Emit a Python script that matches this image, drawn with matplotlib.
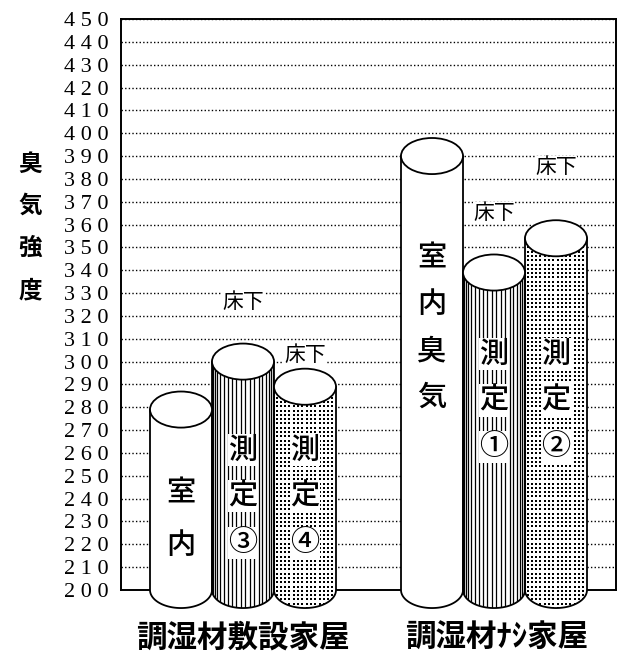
import matplotlib
matplotlib.use("Agg")
import matplotlib.pyplot as plt
from matplotlib.patches import Ellipse, Polygon
import numpy as np

plt.rcParams['font.family'] = ['Noto Sans CJK JP', 'DejaVu Sans']

# 臭気強度 for each house
groups = ['調湿材敷設家屋', '調湿材ﾅｼ家屋']
bar_names = [['室内', '測定③', '測定④'], ['室内臭気', '測定①', '測定②']]
values = [[279, 300, 289], [390, 339, 354]]
floor_flags = [[False, True, True], [False, True, True]]   # 床下 measurement
yticks = list(range(200, 451, 10))

# drawing style / layout
fills = ['plain', 'lines', 'dots']
BASE = 200
W = 62            # cylinder width (x units = px)
HALF = 7.9        # half height of the end ellipses (y units)
group_left = [150, 401]
name_y = [[231, 241, 241], [315, 283, 283]]
floor_off = [[0, 26, 14], [0, 26, 31]]

fig = plt.figure(figsize=(6.23, 6.56), dpi=100)
ax = fig.add_axes([121/623, 66/656, 495/623, 571/656])
ax.set_xlim(121, 616)
ax.set_ylim(200, 450)


def cylinder(ax, x0, top, style):
    x1 = x0 + W
    cx, r = x0 + W/2, W/2
    t = np.linspace(np.pi, 2*np.pi, 80)
    arc = np.column_stack([cx + r*np.cos(t), BASE + HALF*np.sin(t)])
    pts = np.vstack([[x0, top], arc, [x1, top]])
    body = Polygon(pts, closed=True, facecolor='white', edgecolor='none',
                   zorder=3, clip_on=False)
    ax.add_patch(body)
    if style == 'lines':
        th = np.linspace(-np.pi/2, np.pi/2, 22)[1:-1]
        lc = ax.vlines(cx + r*np.sin(th), BASE - HALF - 1, top,
                       colors='black', lw=0.9, zorder=3.1)
        lc.set_clip_path(body)
        lc.set_clip_box(None)
    elif style == 'dots':
        gx = np.arange(x0 + 2.5, x1, 4.3)
        gy = np.arange(BASE - HALF, top, 1.88)
        X, Y = np.meshgrid(gx, gy)
        d = ax.scatter(X.ravel(), Y.ravel(), s=1.5, c='black', marker='s',
                       lw=0, zorder=3.1)
        d.set_clip_path(body)
        d.set_clip_box(None)
    outline = Polygon(pts, closed=True, fill=False, edgecolor='black',
                      lw=1.3, zorder=3.15, clip_on=False)
    ax.add_patch(outline)
    cap = Ellipse((cx, top), W, 2*HALF, facecolor='white', edgecolor='black',
                  lw=1.3, zorder=3.2, clip_on=False)
    ax.add_patch(cap)
    return cx


for g, grp in enumerate(groups):
    for i, name in enumerate(bar_names[g]):
        v = values[g][i]
        cx = cylinder(ax, group_left[g] + i*W, v, fills[i])
        # each character gets its own white patch so the texture stops round it
        n = len(name)
        step = 22.8 if name == '室内' else 20.3
        for k, ch in enumerate(name):
            ax.text(cx, name_y[g][i] + ((n - 1)/2 - k)*step, ch,
                    ha='center', va='center', fontsize=21, weight='medium',
                    zorder=4,
                    bbox=dict(facecolor='white', edgecolor='none', pad=0.5))
        if floor_flags[g][i]:
            ax.text(cx, v + floor_off[g][i], '床下', ha='center', va='center',
                    fontsize=15, zorder=4,
                    bbox=dict(facecolor='white', edgecolor='none', pad=0))
    ax.annotate(grp, xy=(group_left[g] + 1.5*W + 3*g, 18),
                xycoords=('data', 'figure pixels'), ha='center', va='center',
                fontsize=22, weight='bold', annotation_clip=False)

# axis, frame and dotted grid
ax.set_xticks([])
ax.set_yticks(yticks)
ax.set_yticklabels([' '.join(str(v)) for v in yticks],
                   fontfamily='Liberation Serif', fontsize=16)
ax.tick_params(axis='y', length=0, pad=9)
ax.yaxis.grid(True, color='black', lw=1, linestyle=(0, (1, 1.6)))
ax.set_axisbelow(True)
for sp in ax.spines.values():
    sp.set_linewidth(1.4)

fig.text(30/623, 429/656, '臭\n気\n強\n度', ha='center', va='center',
         fontsize=17, weight='bold', linespacing=1.95)

fig.savefig('out.png', dpi=100)
